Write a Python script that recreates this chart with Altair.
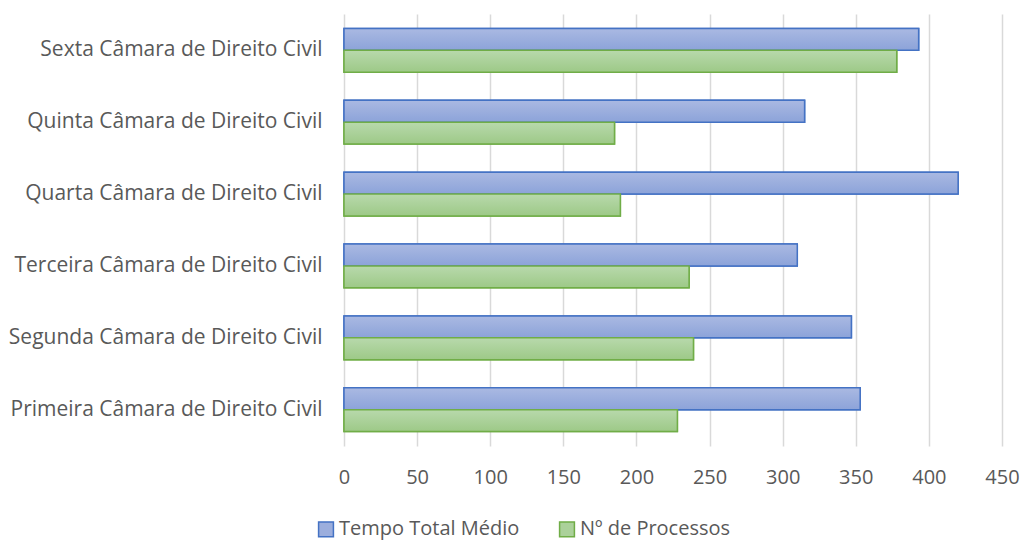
import altair as alt
import pandas as pd

# Câmaras na ordem do eixo, de cima (Sexta) para baixo (Primeira)
camaras = [
    "Sexta Câmara de Direito Civil",
    "Quinta Câmara de Direito Civil",
    "Quarta Câmara de Direito Civil",
    "Terceira Câmara de Direito Civil",
    "Segunda Câmara de Direito Civil",
    "Primeira Câmara de Direito Civil",
]
tempo_total_medio = [393, 315, 420, 310, 347, 353]
num_processos = [378, 185, 189, 236, 239, 228]

series = ["Tempo Total Médio", "Nº de Processos"]
fill_flat = ["#9CAEDD", "#ABD19A"]
stroke_cols = ["#4472C4", "#70AD47"]
grad_stops = [("#AAB9E2", "#8CA3D9"), ("#B8D9AC", "#9DC987")]

rows = []
for c, t, n in zip(camaras, tempo_total_medio, num_processos):
    rows.append({"camara": c, "serie": series[0], "valor": t})
    rows.append({"camara": c, "serie": series[1], "valor": n})
df = pd.DataFrame(rows)

FONT = "Open Sans"
GREY = "#595959"

y_enc = alt.Y(
    "camara:N",
    sort=camaras,
    title=None,
    scale=alt.Scale(paddingInner=0.39, paddingOuter=0.2),
    axis=alt.Axis(ticks=False, domain=False, labelPadding=22, labelFontSize=21,
                  labelColor=GREY, labelFont=FONT, labelLimit=400),
)
x_enc = alt.X(
    "valor:Q",
    title=None,
    scale=alt.Scale(domain=[0, 450], nice=False),
    axis=alt.Axis(values=list(range(0, 451, 50)), ticks=False, domain=False,
                  labelFlush=False, labelPadding=21, labelFontSize=20,
                  labelColor=GREY, labelFont=FONT,
                  gridColor="#D9D9D9", gridWidth=1.5),
)
yoff = alt.YOffset("serie:N", sort=series, scale=alt.Scale(paddingInner=0, paddingOuter=0))

# base layer supplies the shared legend
base = alt.Chart(df).mark_bar(strokeWidth=1.5).encode(
    y=y_enc,
    x=x_enc,
    yOffset=yoff,
    fill=alt.Fill("serie:N", sort=series,
                  scale=alt.Scale(domain=series, range=fill_flat),
                  legend=alt.Legend(title=None, orient="none", direction="horizontal",
                                    legendX=-28, legendY=505, symbolType="square",
                                    symbolSize=220, symbolStrokeWidth=1.5,
                                    labelFontSize=20, labelColor=GREY, labelFont=FONT,
                                    labelLimit=400, columnPadding=36, labelOffset=3)),
    stroke=alt.Stroke("serie:N", sort=series,
                      scale=alt.Scale(domain=series, range=stroke_cols)),
)

layers = [base]
for s, (g0, g1), sc in zip(series, grad_stops, stroke_cols):
    grad = alt.Gradient(
        gradient="linear",
        stops=[alt.GradientStop(color=g0, offset=0), alt.GradientStop(color=g1, offset=1)],
        x1=0, x2=0, y1=0, y2=1,
    )
    layers.append(
        alt.Chart(df).transform_filter(alt.datum.serie == s)
        .mark_bar(fill=grad, stroke=sc, strokeWidth=1.5)
        .encode(y=y_enc, x=x_enc, yOffset=yoff)
    )

chart = alt.layer(*layers).properties(
    width=658,
    height=432,
    padding={"left": 344, "top": 14, "right": 22, "bottom": 97},
    autosize=alt.AutoSizeParams(type="none"),
    background="white",
).configure_view(stroke=None)

chart.save("out.html", embed_options={"renderer": "svg", "actions": False})
